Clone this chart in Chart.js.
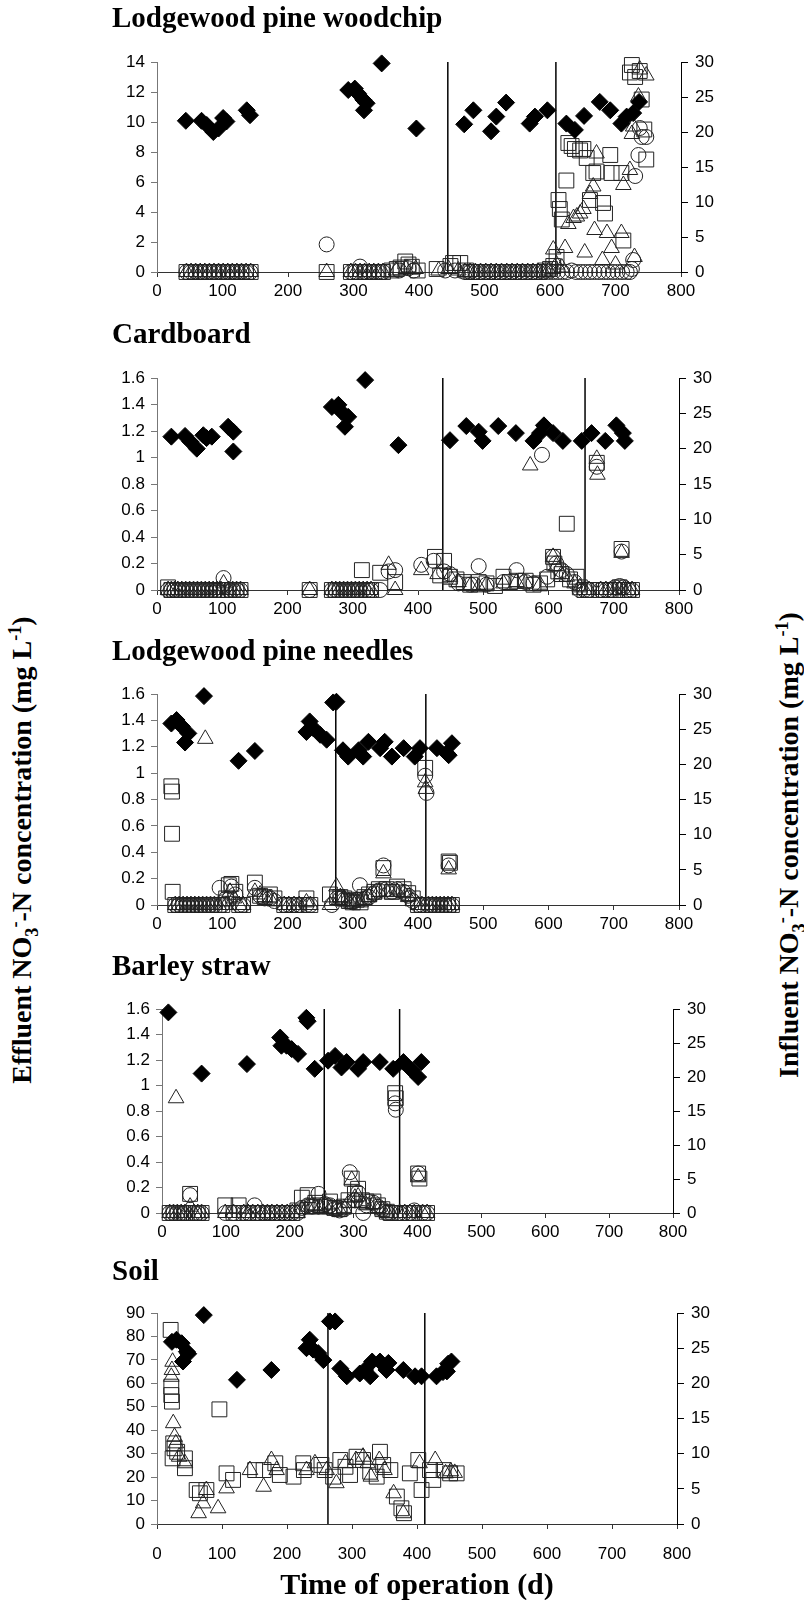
<!DOCTYPE html>
<html>
<head>
<meta charset="utf-8">
<script src="https://cdn.jsdelivr.net/npm/chart.js@4.4.0/dist/chart.umd.min.js"></script>
<style>
  body { margin: 0; background: #fff; width: 804px; height: 1600px; position: relative; overflow: hidden; }
  canvas { position: absolute; left: 0; }
  .ytitle { position: absolute; font: bold 28px "Liberation Serif", "Times New Roman", serif; white-space: nowrap;
            transform: translate(-50%, -50%) rotate(-90deg); color: #000; }
  .ytitle sub, .ytitle sup { font-size: 65%; line-height: 0; }
</style>
</head>
<body>
<div class="ytitle" style="left:22px; top:850px">Effluent NO<sub>3</sub><sup>-</sup>-N concentration (mg L<sup>-1</sup>)</div>
<div class="ytitle" style="left:789px; top:845px">Influent NO<sub>3</sub><sup>-</sup>-N concentration (mg L<sup>-1</sup>)</div>
<script>
// [day, mg/L] pairs
const panelTitles = ['Lodgewood pine woodchip', 'Cardboard', 'Lodgewood pine needles', 'Barley straw', 'Soil'];
const effluentMax = [14, 1.6, 1.6, 1.6, 90];
const effluentStep = [2, 0.2, 0.2, 0.2, 10];
const influentMax = 30;
const influentStep = 5;
const dayMax = 800;
const dayStep = 100;

const woodchipInfluent = [[44,21.6],[68,21.6],[76,21.0],[86,20.0],[94,20.5],[101,22.0],[106,21.5],[137,23.1],[142,22.4],[292,26.0],[302,26.2],[307,25.5],[315,24.6],[320,24.1],[316,23.1],[343,29.8],[396,20.5],[469,21.1],[483,23.1],[510,20.1],[518,22.2],[533,24.2],[569,21.2],[577,22.2],[596,23.1],[625,21.2],[638,20.3],[652,22.3],[676,24.3],[692,23.1],[709,21.2],[717,22.2],[727,22.7],[736,24.3]];
const woodchipSquare = [[45,0],[52,0],[59,0],[66,0],[73,0],[80,0],[87,0],[94,0],[101,0],[108,0],[115,0],[122,0],[129,0],[136,0],[143,0],[259,0],[296,0],[303,0],[310,0],[317,0],[324,0],[331,0],[338,0],[345,0],[358,0.1],[366,0.2],[372,0.3],[379,0.7],[384,0.5],[389,0.35],[398,0.1],[427,0.2],[448,0.4],[452,0.6],[463,0.6],[472,0.1],[480,0],[488,0],[496,0],[504,0],[512,0],[520,0],[528,0],[536,0],[544,0],[552,0],[560,0],[568,0],[576,0],[584,0],[592,0.1],[600,0.2],[605,0.4],[610,1.0],[613,4.8],[615,4.2],[618,3.5],[625,6.1],[628,8.6],[633,8.4],[638,8.2],[646,8.1],[651,8.2],[656,7.6],[661,4.8],[666,6.6],[671,6.7],[681,4.6],[684,3.9],[692,7.8],[694,6.6],[709,6.6],[712,2.1],[722,13.3],[725,13.8],[730,13.0],[737,13.4],[740,11.5],[744,9.5],[747,7.5]];
const woodchipTriangle = [[45,0],[52,0],[59,0],[66,0],[73,0],[80,0],[87,0],[94,0],[101,0],[108,0],[115,0],[122,0],[129,0],[136,0],[143,0],[259,0],[296,0],[303,0],[310,0],[317,0],[324,0],[331,0],[338,0],[345,0],[365,0.1],[380,0.2],[395,0.2],[430,0.1],[445,0.2],[460,0.1],[470,0],[478,0],[486,0],[494,0],[502,0],[510,0],[518,0],[526,0],[534,0],[542,0],[550,0],[558,0],[566,0],[574,0],[582,0],[590,0],[598,0.1],[605,1.5],[610,0.5],[618,0.3],[623,1.6],[628,3.2],[636,3.6],[641,3.7],[646,3.9],[651,4.2],[653,1.3],[661,5.2],[666,5.7],[668,2.8],[671,7.9],[680,0.8],[687,2.6],[694,1.6],[700,0.5],[709,2.6],[712,5.8],[722,6.8],[725,9.2],[727,9.7],[729,1.0],[735,11.7],[737,13.5],[747,13.1]];
const woodchipCircle = [[45,0],[52,0],[59,0],[66,0],[73,0],[80,0],[87,0],[94,0],[101,0],[108,0],[115,0],[122,0],[129,0],[136,0],[143,0],[259,1.84],[296,0],[303,0],[310,0.36],[317,0],[324,0],[331,0],[338,0],[345,0],[370,0.1],[384,0.25],[392,0.1],[440,0.1],[455,0.1],[470,0],[478,0],[486,0],[494,0],[502,0],[510,0],[518,0],[526,0],[534,0],[542,0],[550,0],[558,0],[566,0],[574,0],[582,0],[590,0],[598,0],[605,0],[612,0],[619,0],[626,0],[633,0.1],[640,0],[647,0],[654,0],[661,0],[668,0],[675,0],[682,0],[689,0],[696,0],[703,0],[710,0],[717,0],[722,0],[725,0.2],[727,0.8],[730,6.4],[735,7.8],[737,9.6],[740,9.0],[747,9.0]];
const woodchipSwitch = [444, 609];

const cardboardInfluent = [[22,21.7],[43,21.8],[51,21.0],[61,20.0],[71,21.9],[76,21.5],[84,21.7],[109,23.1],[117,22.4],[117,19.6],[268,25.9],[278,26.2],[283,25.2],[293,24.5],[288,23.1],[319,29.7],[370,20.5],[449,21.2],[474,23.2],[493,22.4],[499,21.1],[523,23.2],[550,22.2],[577,21.1],[587,22.2],[593,23.3],[607,22.2],[622,21.1],[651,21.1],[666,22.2],[687,21.1],[704,23.3],[714,22.2],[717,21.1]];
const cardboardSquare = [[17,0.02],[22,0],[27,0],[32,0],[38,0],[44,0],[50,0],[56,0],[62,0],[68,0],[74,0],[80,0],[86,0],[92,0],[98,0],[104,0],[110,0],[116,0],[122,0],[128,0],[234,0],[268,0],[274,0],[280,0],[286,0],[292,0],[298,0],[304,0],[310,0],[314,0.15],[322,0],[328,0],[342,0.13],[365,0.06],[426,0.25],[434,0.11],[440,0.22],[449,0.1],[459,0.08],[470,0.06],[480,0.04],[493,0.06],[505,0.05],[518,0.03],[531,0.1],[541,0.06],[551,0.07],[565,0.07],[577,0.04],[587,0.05],[598,0.08],[607,0.25],[609,0.2],[615,0.14],[620,0.12],[628,0.5],[633,0.08],[643,0.1],[648,0.02],[655,0],[662,0],[674,0.96],[680,0],[688,0],[695,0],[702,0],[709,0.02],[712,0.31],[715,0],[722,0],[728,0]];
const cardboardTriangle = [[17,0],[22,0],[27,0],[32,0],[38,0],[44,0],[50,0],[56,0],[62,0],[68,0],[74,0],[80,0],[86,0],[92,0],[98,0],[102,0.05],[110,0],[116,0],[122,0],[128,0],[234,0],[268,0],[274,0],[280,0],[286,0],[292,0],[298,0],[304,0],[310,0],[316,0],[322,0],[328,0],[355,0.19],[365,0],[405,0.15],[430,0.12],[449,0.1],[462,0.06],[480,0.03],[493,0.02],[505,0.04],[531,0.05],[551,0.06],[565,0.05],[572,0.94],[587,0.04],[607,0.25],[612,0.18],[620,0.12],[628,0.1],[640,0.05],[648,0.02],[655,0],[662,0],[674,0.99],[675,0.87],[680,0],[688,0],[695,0],[702,0],[709,0],[712,0.28],[715,0],[722,0],[728,0]];
const cardboardCircle = [[17,0],[22,0],[27,0],[32,0],[38,0],[44,0],[50,0],[56,0],[62,0],[68,0],[74,0],[80,0],[86,0],[92,0],[102,0.09],[110,0],[116,0],[122,0],[128,0],[234,0],[268,0],[274,0],[280,0],[286,0],[292,0],[298,0],[304,0],[310,0],[316,0],[322,0],[328,0],[342,0],[355,0.14],[365,0.15],[405,0.19],[424,0.22],[440,0.14],[449,0.12],[462,0.05],[480,0.04],[493,0.18],[505,0.04],[531,0.06],[551,0.15],[565,0.06],[577,0.05],[590,1.02],[598,0.1],[607,0.25],[612,0.2],[620,0.15],[628,0.12],[640,0.06],[648,0],[655,0],[662,0],[674,0.93],[680,0],[688,0],[695,0],[702,0.02],[709,0.03],[712,0.29],[715,0.02],[722,0],[728,0]];
const cardboardSwitch = [438, 656];

const needleInfluent = [[22,25.8],[30,26.3],[38,25.4],[43,23.1],[48,24.4],[72,29.7],[125,20.5],[150,21.9],[229,24.6],[234,26.1],[240,25.1],[250,24.2],[260,23.5],[270,28.8],[275,28.9],[285,22.0],[293,21.1],[309,22.0],[316,21.1],[324,23.2],[342,22.3],[349,23.2],[360,21.1],[378,22.3],[395,21.1],[403,22.3],[429,22.3],[444,21.6],[447,21.3],[452,23.0]];
const needleSquare = [[22,0.9],[23,0.86],[23,0.54],[24,0.1],[28,0],[34,0],[40,0],[46,0],[52,0],[58,0],[64,0],[70,0],[76,0],[82,0],[88,0],[94,0],[100,0],[106,0.05],[110,0.15],[114,0.16],[120,0.1],[126,0],[132,0],[150,0.17],[158,0.07],[165,0.06],[173,0.08],[180,0.05],[195,0],[202,0],[210,0],[218,0],[229,0.05],[235,0],[265,0.08],[276,0.06],[281,0.06],[287,0.05],[294,0.03],[300,0.02],[306,0.04],[312,0.02],[318,0.06],[325,0.08],[333,0.1],[340,0.12],[347,0.28],[352,0.12],[360,0.1],[368,0.14],[378,0.12],[385,0.09],[392,0.05],[400,0],[406,0],[411,1.04],[416,0],[422,0],[428,0],[434,0],[440,0],[446,0],[447,0.33],[449,0.32],[452,0]];
const needleTriangle = [[28,0],[34,0],[40,0],[46,0],[52,0],[58,0],[64,0],[70,0],[74,1.26],[76,0],[82,0],[88,0],[94,0],[100,0],[106,0],[112,0.1],[118,0.05],[126,0],[132,0],[150,0.1],[158,0.08],[165,0.06],[173,0.05],[180,0.03],[195,0],[202,0],[210,0],[218,0],[229,0.02],[235,0],[265,0],[275,0.14],[281,0.06],[287,0.05],[294,0.03],[300,0.02],[306,0.03],[312,0.02],[318,0.04],[325,0.06],[333,0.08],[340,0.1],[347,0.24],[352,0.1],[360,0.08],[368,0.1],[378,0.09],[385,0.06],[392,0.03],[400,0],[406,0],[411,0.93],[412,0.88],[416,0],[422,0],[428,0],[434,0],[440,0],[446,0],[447,0.27],[452,0]];
const needleCircle = [[28,0],[34,0],[40,0],[46,0],[52,0],[58,0],[64,0],[70,0],[76,0],[82,0],[88,0],[96,0.13],[100,0],[106,0.05],[114,0.14],[120,0.08],[126,0],[132,0],[150,0.13],[158,0.07],[165,0.05],[173,0.05],[180,0.03],[195,0],[202,0],[210,0],[218,0],[229,0],[235,0],[268,0],[276,0.05],[281,0.05],[287,0.04],[294,0.03],[300,0.02],[306,0.04],[311,0.15],[318,0.05],[325,0.06],[333,0.09],[340,0.11],[347,0.3],[352,0.12],[360,0.1],[368,0.12],[378,0.1],[385,0.07],[392,0.03],[400,0],[406,0],[411,0.98],[413,0.85],[416,0],[422,0],[428,0],[434,0],[440,0],[446,0],[447,0.3],[452,0]];
const needleSwitch = [274, 412];

const barleyInfluent = [[10,29.5],[62,20.5],[133,21.9],[185,25.8],[187,24.6],[195,24.6],[203,24.1],[213,23.4],[226,28.7],[228,28.2],[239,21.2],[260,22.4],[271,23.1],[281,21.4],[289,22.2],[307,21.2],[315,22.2],[341,22.2],[362,21.2],[378,22.2],[391,21.0],[401,20.0],[406,22.2]];
const barleySquare = [[12,0],[18,0],[24,0],[30,0],[36,0],[44,0.15],[50,0],[56,0],[62,0],[99,0.06],[112,0],[120,0.06],[128,0],[135,0],[142,0],[150,0],[158,0],[165,0],[172,0],[180,0],[188,0],[196,0],[204,0],[212,0.02],[219,0.12],[228,0.14],[235,0.05],[240,0.08],[248,0.06],[255,0.05],[263,0.09],[270,0.04],[278,0.03],[285,0.05],[292,0.1],[297,0.27],[302,0.15],[307,0.19],[313,0.1],[320,0.09],[331,0.09],[338,0.06],[345,0.03],[352,0.01],[358,0],[365,0.94],[366,0.9],[372,0],[380,0],[388,0],[395,0],[401,0.31],[403,0.27],[408,0],[415,0]];
const barleyTriangle = [[12,0],[18,0],[22,0.9],[24,0],[30,0],[36,0],[44,0.05],[50,0],[56,0],[62,0],[99,0],[112,0],[128,0],[135,0],[142,0],[150,0],[158,0],[165,0],[172,0],[180,0],[188,0],[196,0],[204,0],[212,0],[219,0.03],[228,0.05],[235,0.06],[240,0.05],[248,0.04],[255,0.06],[263,0.03],[270,0.02],[278,0.02],[285,0.04],[292,0.08],[297,0.26],[302,0.12],[307,0.13],[313,0.08],[320,0.06],[331,0.07],[338,0.04],[345,0.02],[352,0],[358,0],[372,0],[380,0],[388,0],[395,0],[401,0.28],[408,0],[415,0]];
const barleyCircle = [[12,0],[18,0],[24,0],[30,0],[36,0],[44,0.14],[50,0],[56,0],[62,0],[99,0],[112,0],[128,0],[135,0],[145,0.06],[150,0],[158,0],[165,0],[172,0],[180,0],[188,0],[196,0],[204,0],[212,0],[219,0.04],[228,0.06],[235,0.05],[245,0.15],[255,0.07],[263,0.06],[270,0.03],[278,0.02],[285,0.03],[294,0.32],[302,0.1],[307,0.16],[315,0],[320,0.06],[331,0.08],[338,0.05],[345,0.03],[352,0],[358,0],[365,0.86],[366,0.81],[372,0],[380,0],[388,0],[395,0.02],[401,0.31],[408,0],[415,0]];
const barleySwitch = [254, 372];

const soilInfluent = [[23,25.9],[30,26.2],[38,25.7],[40,23.1],[46,24.5],[48,24.2],[72,29.7],[123,20.5],[176,21.9],[230,25.0],[235,26.2],[240,24.8],[248,24.3],[256,23.3],[266,28.8],[274,28.8],[282,22.1],[292,21.0],[312,21.4],[320,21.9],[328,21.0],[331,23.1],[343,23.1],[353,21.9],[356,22.9],[379,21.9],[397,21.0],[407,21.0],[430,21.0],[440,21.6],[446,21.7],[448,22.8],[453,23.1]];
const soilSquare = [[21,82.8],[22,58.6],[22,55.0],[23,52.2],[25,34.4],[27,32.3],[31,30.8],[24,28.0],[43,28.0],[43,23.8],[61,14.5],[66,13.1],[76,14.5],[96,48.9],[107,21.6],[117,18.8],[151,23.0],[164,23.0],[182,25.9],[189,20.9],[210,20.2],[225,25.9],[226,23.0],[253,25.2],[258,23.0],[271,20.2],[282,27.3],[290,24.4],[297,20.9],[307,28.7],[317,27.3],[328,22.3],[338,20.2],[343,30.8],[348,25.2],[359,23.0],[369,11.7],[376,6.7],[380,4.6],[389,21.6],[402,27.3],[407,14.5],[420,23.0],[425,18.8],[441,23.0],[451,21.6],[461,21.6]];
const soilTriangle = [[24,69.2],[23,65.7],[22,62.8],[25,43.0],[27,37.2],[29,34.4],[34,28.7],[43,25.9],[64,4.6],[71,8.8],[76,14.5],[94,6.7],[107,15.2],[143,23.0],[164,15.9],[176,27.3],[184,23.0],[230,23.0],[243,25.9],[261,23.0],[276,17.4],[290,25.9],[306,27.3],[317,28.7],[324,25.9],[329,20.2],[342,27.3],[350,23.0],[364,13.1],[379,4.6],[404,25.9],[428,27.3],[444,21.6],[452,22.5],[458,21.8]];
const soilCircle = [];
const soilSwitch = [263, 412];

const panelData = [
  [woodchipInfluent, woodchipSquare, woodchipTriangle, woodchipCircle, woodchipSwitch],
  [cardboardInfluent, cardboardSquare, cardboardTriangle, cardboardCircle, cardboardSwitch],
  [needleInfluent, needleSquare, needleTriangle, needleCircle, needleSwitch],
  [barleyInfluent, barleySquare, barleyTriangle, barleyCircle, barleySwitch],
  [soilInfluent, soilSquare, soilTriangle, soilCircle, soilSwitch]
];

// plot rectangles on the page (px), title baselines, gap under the day axis
const boxes = [
  { l: 157, r: 681, t: 62,   b: 272,  base: 29,   xPad: 4 },
  { l: 157, r: 679, t: 378,  b: 590,  base: 345,  xPad: 4 },
  { l: 157, r: 679, t: 694,  b: 905,  base: 662,  xPad: 4 },
  { l: 162, r: 673, t: 1009, b: 1213, base: 977,  xPad: 4 },
  { l: 157, r: 677, t: 1313, b: 1524, base: 1282, xPad: 15 }
];

const tickFont = { family: '"Liberation Sans", Arial, sans-serif', size: 17 };
const serif = '"Liberation Serif", "Times New Roman", serif';
const pts = arr => arr.map(([x, y]) => ({ x, y }));
const openMark = (data, style, r) => ({
  data: pts(data), yAxisID: 'y', pointStyle: style, pointRadius: r, clip: false,
  backgroundColor: 'rgba(0,0,0,0)', borderColor: '#222', borderWidth: 1
});

boxes.forEach((B, i) => {
  const [infl, sq, tri, circ, sw] = panelData[i];
  const last = i === boxes.length - 1;
  const top = Math.round(B.base - 24);
  const xH = last ? 1600 - B.b : 30;
  const height = last ? 1600 - top : B.b - top + xH + 2;
  const yW = B.l - 112;
  const y1W = 45;

  const canvas = document.createElement('canvas');
  canvas.width = 804;
  canvas.height = height;
  canvas.style.top = top + 'px';
  document.body.appendChild(canvas);

  new Chart(canvas, {
    type: 'scatter',
    data: {
      datasets: [
        { data: pts(infl), yAxisID: 'y1', pointStyle: 'rectRot', pointRadius: 8.5, clip: false,
          backgroundColor: '#000', borderColor: '#000', borderWidth: 1 },
        openMark(sq, 'rect', 10.5),
        openMark(tri, 'triangle', 9),
        openMark(circ, 'circle', 7.5),
        ...sw.map(d => ({
          type: 'line', yAxisID: 'y', data: [{ x: d, y: 0 }, { x: d, y: effluentMax[i] }],
          borderColor: '#000', borderWidth: 1.5, pointRadius: 0
        }))
      ]
    },
    options: {
      responsive: false,
      animation: false,
      events: [],
      layout: { padding: { left: 112, right: 804 - B.r - y1W, top: 0, bottom: last ? 0 : 2 } },
      plugins: {
        legend: { display: false },
        tooltip: { enabled: false },
        title: {
          display: true, text: panelTitles[i], align: 'start', color: '#000',
          font: { family: serif, size: 29, weight: 'bold', lineHeight: 1 },
          padding: { top: 0, bottom: B.t - top - 29 }
        }
      },
      scales: {
        x: {
          type: 'linear', position: 'bottom', min: 0, max: dayMax,
          ticks: { stepSize: dayStep, font: tickFont, color: '#000', padding: B.xPad, maxRotation: 0 },
          grid: { drawOnChartArea: false, tickLength: 5, color: '#333' },
          border: { color: '#333' },
          title: last ? {
            display: true, text: 'Time of operation (d)', color: '#000', padding: { top: 0, bottom: -4 },
            font: { family: serif, size: 30, weight: 'bold', lineHeight: 1.2 }
          } : { display: false },
          afterFit: s => { s.height = xH; }
        },
        y: {
          position: 'left', min: 0, max: effluentMax[i],
          ticks: { stepSize: effluentStep[i], font: tickFont, color: '#000', padding: 6,
                   callback: v => String(+v.toFixed(2)) },
          grid: { drawOnChartArea: false, tickLength: 6, color: '#777' },
          border: { color: '#777' },
          afterFit: s => { s.width = yW; }
        },
        y1: {
          position: 'right', min: 0, max: influentMax,
          ticks: { stepSize: influentStep, font: tickFont, color: '#000', padding: 7 },
          grid: { drawOnChartArea: false, tickLength: 7, color: '#000' },
          border: { color: '#000' },
          afterFit: s => { s.width = y1W; }
        }
      }
    }
  });
});
</script>
</body>
</html>
